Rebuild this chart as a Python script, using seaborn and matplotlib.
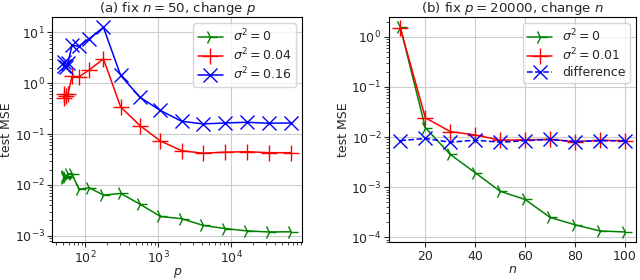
import matplotlib
import matplotlib.pyplot as plt
import seaborn as sns

matplotlib.use("Agg")

# (a) fix n = 50, change p
p_values = [51, 52, 54, 58, 66, 82, 114, 178, 306, 562, 1074, 2098, 4146, 8242, 16434, 32818, 65586]
mse_a_s0 = [0.0137, 0.015, 0.0143, 0.0165, 0.0165, 0.0082, 0.0088, 0.0063, 0.0068, 0.0042,
            0.0024, 0.00217, 0.0016, 0.00139, 0.00125, 0.00119, 0.0012]
mse_a_s004 = [0.52, 0.6, 0.55, 0.6, 1.36, 1.33, 1.82, 3.0, 0.342, 0.147,
              0.073, 0.047, 0.042, 0.044, 0.045, 0.043, 0.043]
mse_a_s016 = [2.6, 2.2, 2.1, 2.5, 5.5, 5.3, 7.5, 12.5, 1.42, 0.53,
              0.29, 0.178, 0.158, 0.165, 0.17, 0.163, 0.165]

# (b) fix p = 20000, change n
n_values = [10, 20, 30, 40, 50, 60, 70, 80, 90, 100]
mse_b_s0 = [1.55, 0.0155, 0.0045, 0.00195, 0.00083, 0.00057, 0.00025, 0.000178, 0.000134, 0.000128]
mse_b_s001 = [1.5, 0.0243, 0.0129, 0.011, 0.0087, 0.0088, 0.009, 0.0081, 0.0086, 0.0085]
mse_b_diff = [0.0085, 0.0094, 0.0079, 0.0087, 0.0079, 0.0085, 0.009, 0.0081, 0.0085, 0.0084]


def draw(ax, x, y, color, marker, label, ms, ls="-"):
    sns.lineplot(
        x=x, y=y, ax=ax, color=color, marker=marker, markersize=ms,
        markeredgecolor=color, markeredgewidth=1.0, linewidth=1.1,
        linestyle=ls, label=label,
    )


sns.set_style("ticks")
plt.rcParams["font.family"] = ["DejaVu Sans"]
plt.rcParams["font.size"] = 9
plt.rcParams["mathtext.fontset"] = "dejavusans"

fig = plt.figure(figsize=(6.4, 2.8), dpi=100)
ax1 = fig.add_axes([0.082, 0.135, 0.39, 0.804])
ax2 = fig.add_axes([0.608, 0.135, 0.386, 0.804])

draw(ax1, p_values, mse_a_s0, "green", "4", r"$\sigma^2 = 0$", 10)
draw(ax1, p_values, mse_a_s004, "red", "+", r"$\sigma^2 = 0.04$", 11)
draw(ax1, p_values, mse_a_s016, "blue", "x", r"$\sigma^2 = 0.16$", 10)
ax1.set_xscale("log")
ax1.set_yscale("log")
ax1.set_xlabel("$p$", labelpad=0)
ax1.set_ylabel("test MSE", labelpad=1)
ax1.set_title("(a) fix $n = 50$, change $p$", fontsize=9.6, pad=3)

draw(ax2, n_values, mse_b_s0, "green", "4", r"$\sigma^2 = 0$", 10)
draw(ax2, n_values, mse_b_s001, "red", "+", r"$\sigma^2 = 0.01$", 11)
draw(ax2, n_values, mse_b_diff, "blue", "x", "difference", 10, ls="--")
ax2.set_yscale("log")
ax2.set_xticks([20, 40, 60, 80, 100])
ax2.set_xlabel("$n$", labelpad=0)
ax2.set_ylabel("test MSE", labelpad=1)
ax2.set_title("(b) fix $p = 20000$, change $n$", fontsize=9.6, pad=3)

for ax in (ax1, ax2):
    ax.grid(True, color="#cccccc", linewidth=0.8)
    ax.tick_params(labelsize=9, pad=2)
    ax.legend(loc="upper right", fontsize=9, framealpha=0.8,
              labelspacing=0.2, borderpad=0.35, handlelength=2.0)
    for spine in ax.spines.values():
        spine.set_visible(True)
        spine.set_color("black")

fig.savefig("out.png", dpi=100)
